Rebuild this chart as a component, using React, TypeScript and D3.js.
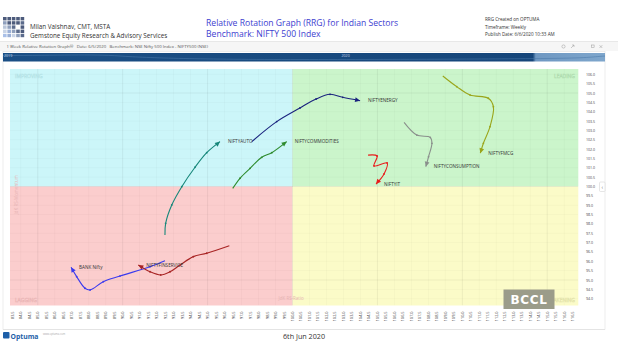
import React from 'react';
import * as d3 from 'd3';

const W = 618;
const H = 351;

// RS-Ratio (x) and RS-Momentum (y) trails, oldest first
const energyTrail: [number, number][] = [[97.6, 102.4], [99.07, 103.47], [100.44, 104.2], [101.39, 104.68], [102.21, 104.93], [102.96, 104.77], [103.98, 104.59]];
const autoTrail: [number, number][] = [[92.49, 97.41], [92.53, 98.03], [92.89, 99.01], [93.48, 99.99], [94.26, 101.03], [94.95, 101.81], [95.73, 102.4]];
const commoditiesTrail: [number, number][] = [[96.48, 99.9], [96.91, 100.44], [97.5, 100.97], [98.19, 101.56], [98.78, 101.81], [99.66, 102.4]];
const itTrail: [number, number][] = [[104.45, 101.68], [104.98, 101.63], [104.8, 101.1], [105.57, 101.26], [105.39, 100.67], [104.92, 100.13]];
const consumptionTrail: [number, number][] = [[106.57, 103.43], [107.32, 102.75], [108.11, 102.63], [108.21, 102.31], [108.01, 101.59], [107.85, 101.06]];
const fmcgTrail: [number, number][] = [[108.85, 105.91], [109.67, 105.34], [110.46, 104.89], [111.53, 104.72], [111.83, 104.27], [111.63, 103.2], [111.24, 102.31], [111.06, 101.78]];
const bankTrail: [number, number][] = [[92.49, 96.03], [91.61, 95.71], [89.84, 95.21], [88.86, 94.91], [88.08, 94.47], [87.78, 94.56], [87.29, 95.18], [86.96, 95.68]];
const finServiceTrail: [number, number][] = [[96.28, 96.83], [94.95, 96.43], [94.16, 96.25], [93.38, 95.8], [92.79, 95.44], [92.24, 95.27], [91.61, 95.44], [90.92, 95.8]];

const sectorNames = ['NIFTYENERGY', 'NIFTYAUTO', 'NIFTYCOMMODITIES', 'NIFTYIT', 'NIFTYCONSUMPTION', 'NIFTYFMCG', 'BANK Nifty', 'NIFTYFINSERVICE'];
const sectorTrails = [energyTrail, autoTrail, commoditiesTrail, itTrail, consumptionTrail, fmcgTrail, bankTrail, finServiceTrail];
const sectorColors = ['#1a237e', '#17877a', '#2e8b2e', '#e81c1c', '#8a8f8c', '#9aa51a', '#3a3aee', '#a82424'];

const xTicks = d3.range(83.5, 116.51, 0.5);
const yTicks = d3.range(94, 106.01, 0.5);
const xGrid = d3.range(84, 117, 1);
const yGrid = d3.range(94, 106.01, 0.5);

const headerLeft = ['Milan Vaishnav, CMT, MSTA', 'Gemstone Equity Research & Advisory Services'];
const headerTitle = ['Relative Rotation Graph (RRG) for Indian Sectors', 'Benchmark: NIFTY 500 Index'];
const headerRight = ['RRG Created on OPTUMA', 'Timeframe: Weekly', 'Publish Date: 6/6/2020 10:33 AM'];
const subHeader = '1 Week Relative Rotation Graph®   Date: 6/5/2020   Benchmark: NSE Nifty 500 Index - NIFTY500 (NSE)';

const logoColors = [
  ['#4d5b7c', '#4d5b7c', '#4d5b7c', '#4d5b7c', '#4d5b7c'],
  ['#8fa0bd', '#4d5b7c', '#4d5b7c', '#4d5b7c', '#5b6b8c'],
  ['#b9c6da', '#8fa0bd', '#5b6b8c', '#ffffff', '#4d5b7c'],
  ['#c9d4e6', '#9bb0d6', '#8fa0bd', '#5b6b8c', '#4d5b7c'],
  ['#a9c0e8', '#9bb0d6', '#c9d4e6', '#8fa0bd', '#5b6b8c'],
];

export default function App() {
  const x = d3.scaleLinear().domain([83.5, 116.5]).range([12.3, 572.7]);
  const y = d3.scaleLinear().domain([94, 106]).range([298.7, 74.3]);
  const left = 10, right = 578.3, top = 69, bottom = 305.5;
  const cx = x(100), cy = y(100);
  const line = d3.line<[number, number]>().x(d => x(d[0])).y(d => y(d[1])).curve(d3.curveCatmullRom.alpha(0.5));
  const font = 'Open Sans, DejaVu Sans, sans-serif';

  return (
    <svg width={W} height={H} style={{ position: 'absolute', left: 0, top: 0, background: '#fff' }} fontFamily={font}>
      <defs>
        <linearGradient id="barGrad" x1="0" x2="1" y1="0" y2="0">
          <stop offset="0" stopColor="#1b4f85" />
          <stop offset="0.88" stopColor="#16467a" />
          <stop offset="0.885" stopColor="#6f98c2" />
          <stop offset="1" stopColor="#7ea6cc" />
        </linearGradient>
        <clipPath id="plotClip"><rect x={left} y={top} width={right - left} height={bottom - top} /></clipPath>
      </defs>

      {/* header logo */}
      {logoColors.map((row, r) => row.map((c, k) => (
        <rect key={`l${r}-${k}`} x={3 + k * 4.4} y={17 + r * 4.2} width={3.6} height={3.4} fill={c} />
      )))}
      {headerLeft.map((t, i) => (
        <text key={t} x={30} y={28.5 + i * 9} fontSize={6.3} fill="#333">{t}</text>
      ))}
      {headerTitle.map((t, i) => (
        <text key={t} x={206} y={26 + i * 10.8} fontSize={8.6} fill="#3d3dd0">{t}</text>
      ))}
      {headerRight.map((t, i) => (
        <text key={t} x={485} y={20.7 + i * 7.8} fontSize={4.6} fill="#333">{t}</text>
      ))}

      {/* sub-header band */}
      <rect x={0} y={41.5} width={W} height={9.5} fill="#f6f6f6" />
      <line x1={0} x2={W} y1={41.5} y2={41.5} stroke="#dcdcdc" strokeWidth={0.6} />
      <text x={6.5} y={48.4} fontSize={4.3} fill="#555" style={{ whiteSpace: 'pre' }}>{subHeader}</text>
      <circle cx={563.5} cy={46.5} r={1.6} fill="none" stroke="#999" strokeWidth={0.5} />
      <path d="M571 48 L574 45 M572 45 L574 45 L574 47" fill="none" stroke="#999" strokeWidth={0.5} />
      <rect x={591.5} y={45} width={2.6} height={2.6} fill="none" stroke="#999" strokeWidth={0.5} />
      <path d="M599.5 45.2 L602.3 48 M602.3 45.2 L599.5 48" stroke="#999" strokeWidth={0.5} />

      {/* outer frame */}
      <rect x={3} y={51.5} width={602} height={278} fill="none" stroke="#e2e2e2" strokeWidth={0.6} />

      {/* navigator bar */}
      <rect x={3} y={53} width={602} height={8.5} fill="url(#barGrad)" />
      <path d="M3 55.5 C 60 55.5, 90 54, 120 56 S 200 59.5, 300 59.5 S 500 59, 545 58.5 S 590 57, 605 56" fill="none" stroke="#4a78a8" strokeWidth={0.7} opacity={0.8} />
      <text x={4} y={56.8} fontSize={3.6} fill="#c8d8ea">2019</text>
      <text x={341.5} y={56.8} fontSize={3.6} fill="#c8d8ea">2020</text>

      {/* quadrants */}
      <rect x={left} y={top} width={cx - left} height={cy - top} fill="#ccf6f9" />
      <rect x={cx} y={top} width={right - cx} height={cy - top} fill="#cbf5cb" />
      <rect x={left} y={cy} width={cx - left} height={bottom - cy} fill="#fbcdcd" />
      <rect x={cx} y={cy} width={right - cx} height={bottom - cy} fill="#fbfbc8" />

      {/* grid */}
      <g clipPath="url(#plotClip)">
        {xGrid.map(v => (
          <line key={`gx${v}`} x1={x(v)} x2={x(v)} y1={top} y2={bottom} stroke="#000" strokeOpacity={v % 5 === 0 ? 0.1 : 0.045} strokeWidth={0.6} />
        ))}
        {yGrid.map(v => (
          <line key={`gy${v}`} x1={left} x2={right} y1={y(v)} y2={y(v)} stroke="#000" strokeOpacity={v % 5 === 0 ? 0.1 : 0.045} strokeWidth={0.6} />
        ))}
      </g>

      {/* quadrant labels (faint) */}
      <text x={15} y={78} fontSize={5} fill="none" stroke="#b5e3e6" strokeWidth={0.4}>IMPROVING</text>
      <text x={575} y={78} fontSize={5} fill="none" stroke="#b0dcb0" strokeWidth={0.4} textAnchor="end">LEADING</text>
      <text x={15} y={302} fontSize={5} fill="none" stroke="#eab6b6" strokeWidth={0.4}>LAGGING</text>
      <text x={575} y={302} fontSize={5} fill="none" stroke="#e2e2aa" strokeWidth={0.4} textAnchor="end">WEAKENING</text>
      <text x={cx - 14} y={300} fontSize={4.5} fill="#e6b3b3">JdK RS-Ratio</text>
      <text transform={`translate(18,${cy + 28}) rotate(-90)`} fontSize={4.5} fill="#e6b3b3">JdK RS-Momentum</text>

      {/* trails */}
      {sectorTrails.map((trail, i) => {
        const color = sectorColors[i];
        const n = trail.length;
        const p1 = trail[n - 2], p2 = trail[n - 1];
        const ang = Math.atan2(y(p2[1]) - y(p1[1]), x(p2[0]) - x(p1[0])) * 180 / Math.PI;
        return (
          <g key={sectorNames[i]}>
            <path d={line(trail) || ''} fill="none" stroke={color} strokeWidth={1.1} />
            {trail.slice(1, n - 1).map((p, k) => (
              <circle key={k} cx={x(p[0])} cy={y(p[1])} r={0.9} fill={color} />
            ))}
            <path d="M0 0 L-5 -2.4 L-5 2.4 Z" fill={color} transform={`translate(${x(p2[0])},${y(p2[1])}) rotate(${ang})`} />
            <text x={x(p2[0]) + 8} y={y(p2[1]) + 1.6} fontSize={4.6} fill="#333">{sectorNames[i]}</text>
          </g>
        );
      })}

      {/* y axis labels */}
      {yTicks.map(v => (
        <text key={`yt${v}`} x={586} y={y(v)} fontSize={3.6} fill="#444" dominantBaseline="central">{v.toFixed(1)}</text>
      ))}
      {/* x axis labels */}
      {xTicks.map(v => (
        <text key={`xt${v}`} transform={`translate(${x(v)},311.5) rotate(-90)`} fontSize={3.8} fill="#333" textAnchor="end" dominantBaseline="central">{v.toFixed(1)}</text>
      ))}

      {/* side tab */}
      <rect x={599.5} y={182} width={5.5} height={9.5} rx={1} fill="#fff" stroke="#ccc" strokeWidth={0.5} />
      <text x={602.2} y={187} fontSize={5} fill="#666" textAnchor="middle" dominantBaseline="central">‹</text>

      {/* watermark */}
      <rect x={503.5} y={289.5} width={51} height={19.5} fill="#9b9c8a" />
      <text x={529} y={304} fontSize={12} fontWeight="bold" fill="#fff" textAnchor="middle" letterSpacing={0.6} fontFamily="DejaVu Sans, sans-serif">BCCL</text>

      {/* footer */}
      <line x1={3} x2={605} y1={329.5} y2={329.5} stroke="#ddd" strokeWidth={0.6} />
      <rect x={3} y={332} width={6.5} height={6.5} rx={1} fill="#1d5fa8" />
      <text x={10.5} y={338.5} fontSize={6.8} fill="#1d5fa8" fontWeight="bold">Optuma</text>
      <text x={43} y={335} fontSize={2.6} fill="#aaa">www.optuma.com</text>
      <text x={283} y={339} fontSize={7.2} fill="#333">6th Jun 2020</text>
    </svg>
  );
}
